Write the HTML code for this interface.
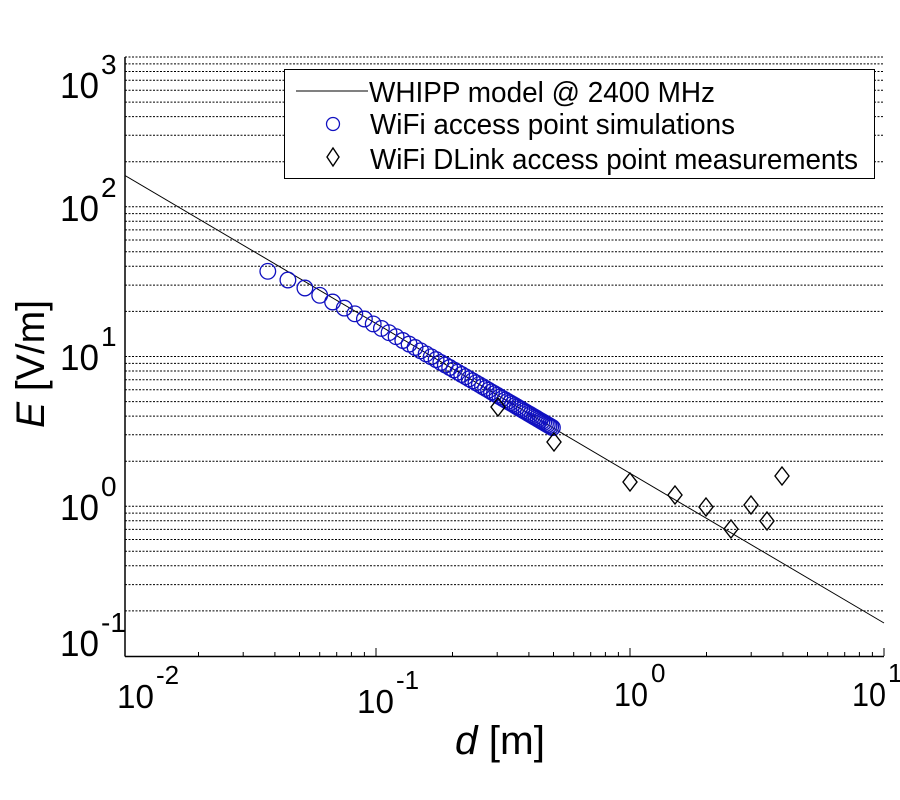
<!DOCTYPE html>
<html><head><meta charset="utf-8"><style>html,body{margin:0;padding:0;background:#fff}svg{display:block}</style></head>
<body>
<svg id="s" width="900" height="800" xmlns="http://www.w3.org/2000/svg" font-family="Liberation Sans, Arial, sans-serif">
<rect width="900" height="800" fill="#fff"/>
<g id="grid" stroke="#000" stroke-width="1" stroke-dasharray="2,1.5"></g>
<g id="ticks" stroke="#000" stroke-width="1"></g>
<line x1="125" y1="57" x2="125" y2="656.5" stroke="#000" stroke-width="1.5"/>
<line x1="125" y1="656.5" x2="884" y2="656.5" stroke="#000" stroke-width="1.5"/>
<line x1="125" y1="175.5" x2="884" y2="623" stroke="#000" stroke-width="1"/>
<g id="circ" fill="none" stroke="#1010c0" stroke-width="1.3"></g>
<g id="dia" fill="none" stroke="#000" stroke-width="1.4"></g>
<g font-size="36" fill="#000">
<text x="60" y="98" textLength="39" lengthAdjust="spacingAndGlyphs">10</text><text x="101" y="74" font-size="28">3</text>
<text x="60" y="221" textLength="39" lengthAdjust="spacingAndGlyphs">10</text><text x="101" y="197" font-size="28">2</text>
<text x="60" y="370" textLength="39" lengthAdjust="spacingAndGlyphs">10</text><text x="101" y="346" font-size="28">1</text>
<text x="60" y="520" textLength="39" lengthAdjust="spacingAndGlyphs">10</text><text x="101" y="496" font-size="28">0</text>
<text x="60" y="656" textLength="39" lengthAdjust="spacingAndGlyphs">10</text><text x="101" y="632" font-size="28">-1</text>
</g>
<g font-size="33" fill="#000">
<text x="117" y="708" textLength="37" lengthAdjust="spacingAndGlyphs">10</text><text x="156" y="684" font-size="26">-2</text>
<text x="357" y="713" textLength="37" lengthAdjust="spacingAndGlyphs">10</text><text x="396" y="689" font-size="26">-1</text>
<text x="614" y="706" textLength="34" lengthAdjust="spacingAndGlyphs">10</text><text x="651" y="682" font-size="26">0</text>
<text x="852" y="706" textLength="34" lengthAdjust="spacingAndGlyphs">10</text><text x="888" y="682" font-size="26">1</text>
</g>
<text x="455" y="754" font-size="40" fill="#000" textLength="90" lengthAdjust="spacingAndGlyphs"><tspan font-style="italic">d</tspan> [m]</text>
<text transform="translate(44,428) rotate(-90)" font-size="40" fill="#000" textLength="128" lengthAdjust="spacingAndGlyphs"><tspan font-style="italic">E</tspan> [V/m]</text>
<rect x="284.5" y="69.5" width="590" height="109" fill="#fff" stroke="#000" stroke-width="1"/>
<line x1="296" y1="91" x2="368" y2="91" stroke="#000" stroke-width="1"/>
<circle cx="333" cy="124" r="6.5" fill="none" stroke="#1010c0" stroke-width="1.3"/>
<path d="M333 148 L339 157 L333 166 L327 157 Z" fill="none" stroke="#000" stroke-width="1.4"/>
<g font-size="29" fill="#000">
<text x="369" y="102" textLength="346" lengthAdjust="spacingAndGlyphs">WHIPP model @ 2400 MHz</text>
<text x="370" y="134" textLength="365" lengthAdjust="spacingAndGlyphs">WiFi access point simulations</text>
<text x="370" y="169" textLength="488" lengthAdjust="spacingAndGlyphs">WiFi DLink access point measurements</text>
</g>
</svg>
<script>
const NS="http://www.w3.org/2000/svg";
function el(g,t,a){const e=document.createElementNS(NS,t);for(const k in a)e.setAttribute(k,a[k]);document.getElementById(g).appendChild(e);}
const Y=E=>656-(Math.log10(E)+1)*149.75, X=d=>630+Math.log10(d)*254;
for(let p=-1;p<=3;p++)for(let m=1;m<=9;m++){const v=m*Math.pow(10,p);const y=Y(v);if(y<56||y>655)continue;
 el('grid','line',{x1:125,x2:884,y1:y.toFixed(1),y2:y.toFixed(1)});}
for(let p=-2;p<=1;p++)for(let m=1;m<=9;m++){const v=m*Math.pow(10,p);const x=X(v);if(x<124||x>885)continue;
 const L=m==1?8:4;el('ticks','line',{x1:x.toFixed(1),x2:x.toFixed(1),y1:656,y2:656-L});}
for(let d=0.0375;d<=0.5001;d+=0.0075){const E=1.66/Math.sqrt(d*d+0.0006);
 el('circ','circle',{cx:X(d).toFixed(1),cy:Y(E).toFixed(1),r:7.8});}
[[498,407],[554,442],[630,482],[675,495],[706,507],[731,529],[751,505],[767,521],[782,476]].forEach(([x,y])=>
 el('dia','path',{d:`M${x} ${y-9} L${x+7} ${y} L${x} ${y+9} L${x-7} ${y} Z`}));
</script>
</body></html>
